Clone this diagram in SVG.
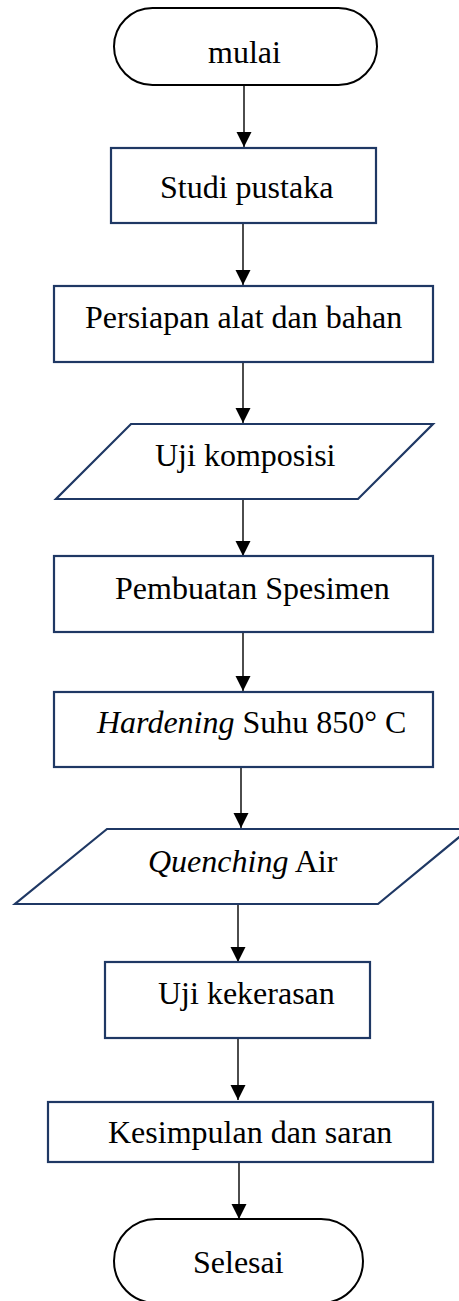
<svg xmlns="http://www.w3.org/2000/svg" width="459" height="1301" viewBox="0 0 459 1301">
<style>
.t{font-family:"Liberation Serif","Times New Roman",serif;font-size:32px;fill:#000}
.box{fill:#fff;stroke:#1f3864;stroke-width:2.2}
.term{fill:#fff;stroke:#000;stroke-width:2}
.ln{stroke:#000;stroke-width:1.4;fill:none;marker-end:url(#ah)}
</style>
<defs>
<marker id="ah" markerUnits="userSpaceOnUse" markerWidth="16" markerHeight="16" refX="15" refY="7.5" orient="auto">
<path d="M0,0 L15,7.5 L0,15 Z" fill="#000"/>
</marker>
</defs>
<rect width="459" height="1301" fill="#fff"/>
<g id="connectors">
<line class="ln" x1="244" y1="85" x2="244" y2="147"/>
<line class="ln" x1="243" y1="223" x2="243" y2="285"/>
<line class="ln" x1="243" y1="362" x2="243" y2="423"/>
<line class="ln" x1="243" y1="499" x2="243" y2="556"/>
<line class="ln" x1="243" y1="632" x2="243" y2="691"/>
<line class="ln" x1="241" y1="767" x2="241" y2="828"/>
<line class="ln" x1="238" y1="904" x2="238" y2="962"/>
<line class="ln" x1="238" y1="1038" x2="238" y2="1100"/>
<line class="ln" x1="239" y1="1162" x2="239" y2="1219"/>
</g>
<g id="mulai">
<rect class="term" x="114" y="8" width="263" height="77" rx="38.5"/>
<text class="t" x="208" y="63">mulai</text>
</g>
<g id="studi">
<rect class="box" x="111" y="148" width="265" height="75"/>
<text class="t" x="160" y="198">Studi pustaka</text>
</g>
<g id="persiapan">
<rect class="box" x="54" y="286" width="379" height="76"/>
<text class="t" x="85" y="328">Persiapan alat dan bahan</text>
</g>
<g id="komposisi">
<polygon class="box" points="131,424 433,424 358,499 56,499"/>
<text class="t" x="155" y="466">Uji komposisi</text>
</g>
<g id="pembuatan">
<rect class="box" x="54" y="556" width="379" height="76"/>
<text class="t" x="115" y="599">Pembuatan Spesimen</text>
</g>
<g id="hardening">
<rect class="box" x="54" y="692" width="379" height="75"/>
<text class="t" x="97" y="733"><tspan font-style="italic">Hardening</tspan> Suhu 850° C</text>
</g>
<g id="quenching">
<polygon class="box" points="107,829 469,829 378,904 15,904"/>
<text class="t" x="148" y="872"><tspan font-style="italic">Quenching</tspan> Air</text>
</g>
<g id="kekerasan">
<rect class="box" x="105" y="962" width="265" height="76"/>
<text class="t" x="158" y="1004">Uji kekerasan</text>
</g>
<g id="kesimpulan">
<rect class="box" x="48" y="1102" width="385" height="60"/>
<text class="t" x="108" y="1143">Kesimpulan dan saran</text>
</g>
<g id="selesai">
<rect class="term" x="114" y="1219" width="249" height="84" rx="42"/>
<text class="t" x="193" y="1273">Selesai</text>
</g>
</svg>
